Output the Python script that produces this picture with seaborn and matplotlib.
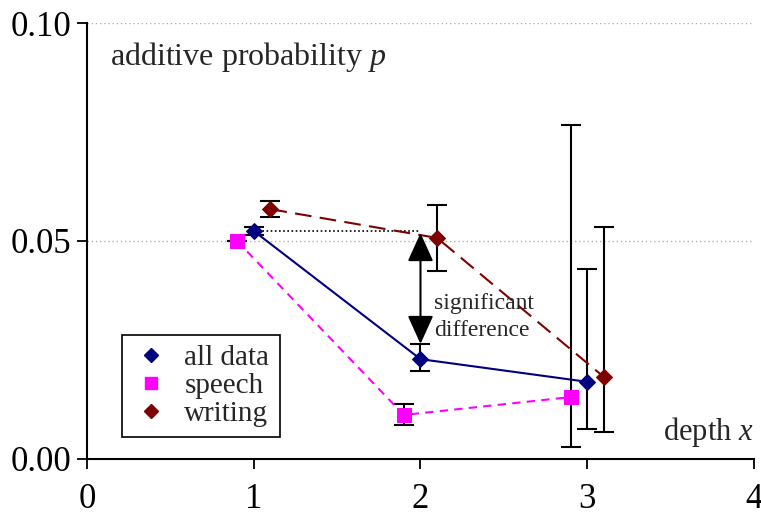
import numpy as np
import pandas as pd
import matplotlib
matplotlib.use("Agg")
import matplotlib.pyplot as plt
import seaborn as sns
from matplotlib.lines import Line2D

# depth positions (offset slightly so the series do not overlap)
x_all = [1.0, 2.0, 3.0]
x_speech = [0.9, 1.9, 2.9]
x_writing = [1.1, 2.1, 3.1]

p_all = [0.0523, 0.0229, 0.0177]
lo_all = [0.0514, 0.0202, 0.0069]
hi_all = [0.0532, 0.0264, 0.0436]

p_speech = [0.0500, 0.0101, 0.0142]
lo_speech = [0.0500, 0.0078, 0.0028]
hi_speech = [0.0500, 0.0126, 0.0766]

p_writing = [0.0573, 0.0507, 0.0188]
lo_writing = [0.0555, 0.0431, 0.0062]
hi_writing = [0.0592, 0.0583, 0.0532]

series = ["all data", "speech", "writing"]
colors = {"all data": "#000080", "speech": "#ff00ff", "writing": "#800000"}
markers = {"all data": "D", "speech": "s", "writing": "D"}
msizes = {"all data": 8, "speech": 10, "writing": 8}
dashes = {"speech": (4, 3), "writing": (8, 4)}

frames = []
for name, xs, ps, lo, hi in [
    ("all data", x_all, p_all, lo_all, hi_all),
    ("speech", x_speech, p_speech, lo_speech, hi_speech),
    ("writing", x_writing, p_writing, lo_writing, hi_writing),
]:
    frames.append(pd.DataFrame({"depth": xs, "p": ps, "lo": lo, "hi": hi, "series": name}))
df = pd.concat(frames, ignore_index=True)

sns.set_style("ticks")
plt.rcParams["font.family"] = ["Liberation Serif", "DejaVu Serif"]
plt.rcParams["mathtext.fontset"] = "custom"
plt.rcParams["mathtext.it"] = "Liberation Serif:italic"
plt.rcParams["mathtext.rm"] = "Liberation Serif"

fig = plt.figure(figsize=(7.61, 5.16), dpi=100)
ax = fig.add_axes([0.1143, 0.1105, 0.8765, 0.8449])

ax.set_xlim(0, 4)
ax.set_ylim(0, 0.10)

# dotted gridlines
for g in [0.05, 0.10]:
    ax.axhline(g, color="#b0b0b0", linestyle=(0, (1, 2)), linewidth=1.0, zorder=0)

# error bars
for name in series:
    d = df[df.series == name]
    ax.errorbar(d.depth, d.p, yerr=[d.p - d.lo, d.hi - d.p], fmt="none",
                ecolor="black", elinewidth=1.5, capsize=7, capthick=1.5, zorder=2)

# dotted reference line from the depth-1 value
ax.plot([x_all[0], 2.0], [p_all[0], p_all[0]], color="black",
        linestyle=(0, (1, 1.5)), linewidth=1.2, zorder=2)

# data series
for name in series:
    d = df[df.series == name]
    sns.lineplot(data=d, x="depth", y="p", ax=ax, color=colors[name],
                 marker=markers[name], markersize=msizes[name],
                 markeredgecolor=colors[name], linewidth=1.5,
                 sort=False, zorder=3, legend=False)
    if name in dashes:
        ax.lines[-1].set_dashes(dashes[name])

# significant-difference arrow
ax.annotate("", xy=(2.0, 0.0518), xytext=(2.0, 0.0264),
            arrowprops=dict(arrowstyle="<|-|>,head_length=1.1,head_width=0.5",
                            mutation_scale=16, color="black", lw=1.5,
                            shrinkA=0, shrinkB=0), zorder=4)
ax.text(2.08, 0.0325, "significant\ndifference", fontsize=17, ha="left",
        va="center", linespacing=1.4)

# axis labels inside the plot
ax.text(0.14, 0.0962, "additive probability $p$", fontsize=23, ha="left", va="top")
ax.text(4.0, 0.0062, "depth $x$", fontsize=22, ha="right", va="center")

# legend
handles = [Line2D([], [], color=colors[n], marker=markers[n], linestyle="none",
                  markersize=msizes[n] - 1) for n in series]
leg = ax.legend(handles, series, loc="lower left", bbox_to_anchor=(0.052, 0.05),
                fontsize=21, frameon=True, fancybox=False, edgecolor="black",
                framealpha=1, handletextpad=0.5, borderpad=0.35, labelspacing=0.05,
                handlelength=1.3, borderaxespad=0)
leg.get_frame().set_linewidth(1.2)

ax.set_xticks([0, 1, 2, 3, 4])
ax.set_xticklabels(["0", "1", "2", "3", "4"])
ax.set_yticks([0, 0.05, 0.10])
ax.set_yticklabels(["0.00", "0.05", "0.10"])
ax.tick_params(axis="both", labelsize=25, direction="out", length=7, width=1.3,
               colors="black")
ax.tick_params(axis="x", pad=10)
ax.tick_params(axis="y", pad=4)
ax.set_xlabel("")
ax.set_ylabel("")
sns.despine(ax=ax)
for s in ["left", "bottom"]:
    ax.spines[s].set_linewidth(1.5)
    ax.spines[s].set_color("black")

fig.savefig("out.png", dpi=100)
